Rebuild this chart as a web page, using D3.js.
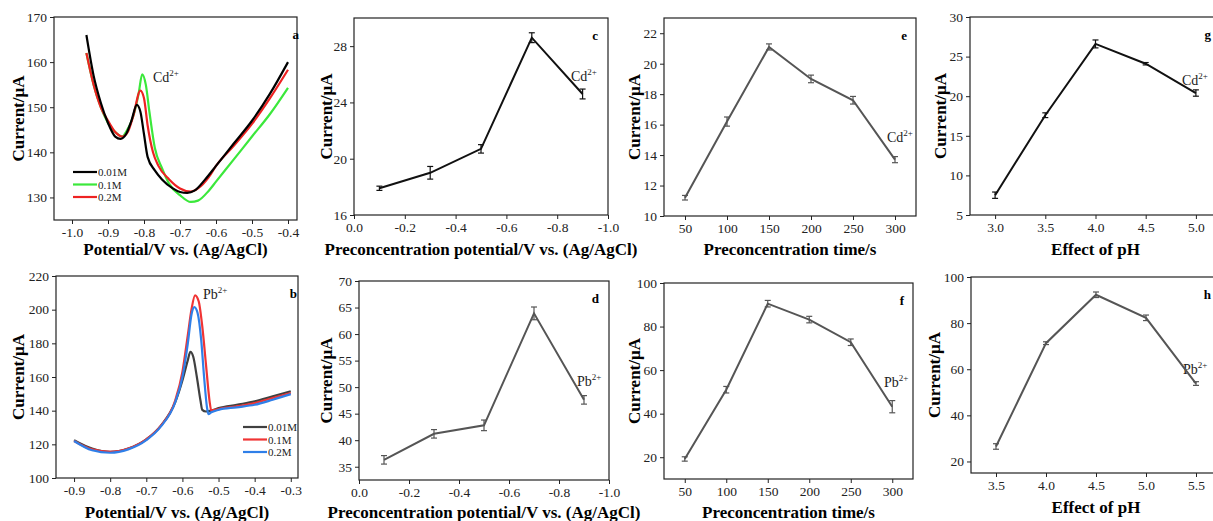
<!DOCTYPE html>
<html>
<head>
<meta charset="utf-8">
<script src="https://cdn.jsdelivr.net/npm/d3@7"></script>
<style>
  body { margin: 0; background: #fff; }
  svg { font-family: "Liberation Serif", "Times New Roman", serif; }
  .tick text { fill: #222; }
  .tick line { stroke: #222; }
</style>
</head>
<body>
<svg id="fig" width="1213" height="521"></svg>
<script>
// ---- panel a : Cd2+ stripping curves, three buffer concentrations
var aBlackX = [-0.96,-0.94,-0.92,-0.90,-0.88,-0.865,-0.85,-0.835,-0.82,-0.81,-0.80,-0.79,-0.77,-0.75,-0.72,-0.70,-0.68,-0.66,-0.63,-0.60,-0.55,-0.50,-0.45,-0.40];
var aBlackY = [166,157,151,146.5,143.5,143,144,147,150.5,149,144,139,136,134,132,131.2,131,131.5,134,137,142,147,153,160];
var aGreenX = [-0.96,-0.94,-0.92,-0.90,-0.88,-0.86,-0.85,-0.83,-0.815,-0.805,-0.795,-0.785,-0.77,-0.75,-0.73,-0.70,-0.67,-0.65,-0.62,-0.60,-0.55,-0.50,-0.45,-0.40];
var aGreenY = [162,155,150,146.5,144.5,143.5,144.5,148,153,157.3,155,149,141,136.5,133,130.5,129,129.3,131.5,133.5,138.5,143.5,148.5,154.3];
var aRedX = [-0.96,-0.94,-0.92,-0.90,-0.88,-0.86,-0.845,-0.83,-0.81,-0.80,-0.79,-0.775,-0.76,-0.73,-0.70,-0.67,-0.65,-0.62,-0.60,-0.55,-0.50,-0.45,-0.40];
var aRedY = [162,155,150,147,144.5,143.5,144.5,148,153.7,152,146,140,137,134,132,131.3,132,134.5,137,141.5,146.3,152,158.3];

// ---- panel b : Pb2+ stripping curves
var bBlackX = [-0.90,-0.85,-0.80,-0.75,-0.70,-0.66,-0.62,-0.60,-0.585,-0.578,-0.57,-0.56,-0.55,-0.545,-0.535,-0.52,-0.50,-0.45,-0.40,-0.35,-0.30];
var bBlackY = [122.5,117.5,115.5,117.5,123,131,145,158,170,175,172,160,146,140.5,139.5,140,141.5,143.5,145.5,148.5,151.5];
var bRedX = [-0.90,-0.85,-0.80,-0.75,-0.70,-0.66,-0.62,-0.60,-0.585,-0.575,-0.565,-0.555,-0.545,-0.535,-0.525,-0.52,-0.51,-0.50,-0.45,-0.40,-0.35,-0.30];
var bRedY = [122,117,115.5,117.5,123,131,146,163,185,200,208.5,205,190,168,146,140,140.5,141,142.5,144.5,147.5,150.5];
var bBlueX = [-0.90,-0.85,-0.80,-0.75,-0.70,-0.66,-0.62,-0.60,-0.585,-0.575,-0.567,-0.558,-0.548,-0.54,-0.532,-0.528,-0.52,-0.50,-0.45,-0.40,-0.35,-0.30];
var bBlueY = [122,116.5,115,117,122.5,130.5,145,160,180,197,201.5,198,182,160,142,138,139,140.5,142,143.5,146.5,149.8];

var concLabels = ["0.01M", "0.1M", "0.2M"];

// ---- panels c / d : preconcentration potential
var potentials = [-0.1, -0.3, -0.5, -0.7, -0.9];
var cdPotCurrent = [17.9, 19.0, 20.7, 28.6, 24.6];
var cdPotErr = [0.15, 0.45, 0.3, 0.35, 0.35];
var pbPotCurrent = [36.3, 41.2, 42.8, 63.9, 47.6];
var pbPotErr = [0.8, 0.8, 1.0, 1.2, 0.8];

// ---- panels e / f : preconcentration time
var times = [50, 100, 150, 200, 250, 300];
var cdTimeCurrent = [11.2, 16.2, 21.1, 19.0, 17.6, 13.7];
var cdTimeErr = [0.15, 0.3, 0.2, 0.25, 0.25, 0.2];
var pbTimeCurrent = [19.2, 51.0, 90.5, 83.2, 72.8, 43.2];
var pbTimeErr = [1.0, 1.5, 1.5, 1.5, 1.5, 2.8];

// ---- panels g / h : pH
var cdPH = [3.0, 3.5, 4.0, 4.5, 5.0];
var cdPHCurrent = [7.5, 17.6, 26.6, 24.1, 20.4];
var cdPHErr = [0.4, 0.3, 0.5, 0.15, 0.4];
var pbPH = [3.5, 4.0, 4.5, 5.0, 5.5];
var pbPHCurrent = [26.5, 71.3, 92.3, 82.3, 53.8];
var pbPHErr = [1.2, 0.6, 1.2, 1.2, 0.8];

var svg = d3.select("#fig");
svg.append("rect").attr("width", 1213).attr("height", 521).attr("fill", "#fff");

function zip(xs, ys) { return xs.map((x, i) => ({x: x, y: ys[i]})); }

// plain hyphen for negatives, like the original figure
var fmt1 = d => (Math.abs(d) < 1e-9 ? 0 : d).toFixed(1);
var fmt0 = d => String(d);

// build one panel frame + axes, returns scales and group
function panel(p) {
    var g = svg.append("g").attr("transform", "translate(" + p.left + "," + p.top + ")");
    var w = p.right - p.left, h = p.bottom - p.top;
    var x = d3.scaleLinear().domain(p.xDomain).range([0, w]);
    var y = d3.scaleLinear().domain(p.yDomain).range([h, 0]);

    g.append("g").attr("transform", "translate(0," + h + ")")
        .call(d3.axisBottom(x).tickValues(p.xTicks).tickSize(4).tickSizeOuter(0).tickFormat(p.xFormat));
    g.append("g")
        .call(d3.axisLeft(y).tickValues(p.yTicks).tickSize(4).tickSizeOuter(0).tickFormat(fmt0));
    g.selectAll(".domain").remove();
    g.append("rect").attr("width", w).attr("height", h)
        .attr("fill", "none").attr("stroke", "#222").attr("stroke-width", 1.2);
    g.selectAll(".tick text").attr("font-family", "Liberation Serif").attr("font-size", 13.5);

    // axis titles
    g.append("text")
        .attr("x", w / 2).attr("y", p.xTitleY - p.top)
        .attr("text-anchor", "middle").attr("font-weight", "bold").attr("font-size", 17)
        .text(p.xTitle);
    g.append("text")
        .attr("transform", "translate(" + (p.yTitleX - p.left) + "," + (h / 2) + ") rotate(-90)")
        .attr("text-anchor", "middle").attr("font-weight", "bold").attr("font-size", 17)
        .text("Current/μA");
    // panel letter
    g.append("text").attr("x", p.letterX - p.left).attr("y", 22).attr("text-anchor", "end")
        .attr("font-weight", "bold").attr("font-size", 13).text(p.letter);
    // ion label
    var t = g.append("text").attr("x", p.ionX - p.left).attr("y", p.ionY - p.top)
        .attr("font-size", 14).attr("fill", "#222").text(p.ion);
    t.append("tspan").attr("dy", -6).attr("font-size", 9).text("2+");

    return {g: g, x: x, y: y};
}

function curve(P, xs, ys, color) {
    var line = d3.line().x(d => P.x(d.x)).y(d => P.y(d.y)).curve(d3.curveMonotoneX);
    P.g.append("path").datum(zip(xs, ys))
        .attr("fill", "none").attr("stroke", color).attr("stroke-width", 2.2)
        .attr("d", line);
}

function errLine(P, xs, ys, es, color) {
    var pts = xs.map((x, i) => ({x: x, y: ys[i], e: es[i]}));
    P.g.append("path").datum(pts)
        .attr("fill", "none").attr("stroke", color).attr("stroke-width", 2)
        .attr("d", d3.line().x(d => P.x(d.x)).y(d => P.y(d.y)));
    var eb = P.g.append("g").selectAll("g").data(pts).enter().append("g")
        .attr("stroke", color).attr("stroke-width", 1.2);
    eb.append("line").attr("x1", d => P.x(d.x)).attr("x2", d => P.x(d.x))
        .attr("y1", d => P.y(d.y - d.e)).attr("y2", d => P.y(d.y + d.e));
    eb.append("line").attr("x1", d => P.x(d.x) - 3).attr("x2", d => P.x(d.x) + 3)
        .attr("y1", d => P.y(d.y - d.e)).attr("y2", d => P.y(d.y - d.e));
    eb.append("line").attr("x1", d => P.x(d.x) - 3).attr("x2", d => P.x(d.x) + 3)
        .attr("y1", d => P.y(d.y + d.e)).attr("y2", d => P.y(d.y + d.e));
}

function legend(P, lx, ly, colors) {
    colors.forEach((c, i) => {
        P.g.append("line").attr("x1", lx).attr("x2", lx + 24)
            .attr("y1", ly + i * 12.5).attr("y2", ly + i * 12.5)
            .attr("stroke", c).attr("stroke-width", 2.2);
        P.g.append("text").attr("x", lx + 25).attr("y", ly + i * 12.5 + 4)
            .attr("font-size", 11).attr("fill", "#222").text(concLabels[i]);
    });
}

// ---- a
var A = panel({left: 54, top: 17, right: 297, bottom: 220, xDomain: [-1.05, -0.375], yDomain: [125, 170],
    xTicks: [-1.0,-0.9,-0.8,-0.7,-0.6,-0.5,-0.4], yTicks: [130,140,150,160,170], xFormat: fmt1,
    xTitle: "Potential/V vs. (Ag/AgCl)", xTitleY: 255, yTitleX: 24, letter: "a", letterX: 299, ion: "Cd", ionX: 153, ionY: 82});
curve(A, aGreenX, aGreenY, "#3be83b");
curve(A, aRedX, aRedY, "#ee2222");
curve(A, aBlackX, aBlackY, "#000");
legend(A, 19, 155, ["#000", "#3be83b", "#ee2222"]);

// ---- b
var B = panel({left: 56, top: 276, right: 298, bottom: 478, xDomain: [-0.95, -0.28], yDomain: [100, 220],
    xTicks: [-0.9,-0.8,-0.7,-0.6,-0.5,-0.4,-0.3], yTicks: [100,120,140,160,180,200,220], xFormat: fmt1,
    xTitle: "Potential/V vs. (Ag/AgCl)", xTitleY: 518, yTitleX: 24, letter: "b", letterX: 297, ion: "Pb", ionX: 203, ionY: 299});
curve(B, bBlackX, bBlackY, "#404040");
curve(B, bRedX, bRedY, "#f03434");
curve(B, bBlueX, bBlueY, "#2f7fe8");
legend(B, 187, 151, ["#404040", "#f03434", "#2f7fe8"]);

// ---- c
var C = panel({left: 354, top: 18, right: 608, bottom: 215, xDomain: [0, -1.0], yDomain: [16, 30],
    xTicks: [0,-0.2,-0.4,-0.6,-0.8,-1.0], yTicks: [16,20,24,28], xFormat: fmt1,
    xTitle: "Preconcentration potential/V vs. (Ag/AgCl)", xTitleY: 255, yTitleX: 332, letter: "c", letterX: 598, ion: "Cd", ionX: 571, ionY: 81});
errLine(C, potentials, cdPotCurrent, cdPotErr, "#111");

// ---- d
var D = panel({left: 359, top: 281, right: 609, bottom: 480, xDomain: [0, -1.0], yDomain: [32.5, 70],
    xTicks: [0,-0.2,-0.4,-0.6,-0.8,-1.0], yTicks: [35,40,45,50,55,60,65,70], xFormat: fmt1,
    xTitle: "Preconcentration potential/V vs. (Ag/AgCl)", xTitleY: 518, yTitleX: 332, letter: "d", letterX: 599, ion: "Pb", ionX: 577, ionY: 386});
errLine(D, potentials, pbPotCurrent, pbPotErr, "#555");

// ---- e
var E = panel({left: 664, top: 18, right: 916, bottom: 216, xDomain: [25, 325], yDomain: [10, 23],
    xTicks: times, yTicks: [10,12,14,16,18,20,22], xFormat: fmt0,
    xTitle: "Preconcentration time/s", xTitleY: 255, yTitleX: 640, letter: "e", letterX: 907, ion: "Cd", ionX: 887, ionY: 142});
errLine(E, times, cdTimeCurrent, cdTimeErr, "#555");

// ---- f
var F = panel({left: 664, top: 283, right: 913, bottom: 479, xDomain: [25, 325], yDomain: [10, 100],
    xTicks: times, yTicks: [20,40,60,80,100], xFormat: fmt0,
    xTitle: "Preconcentration time/s", xTitleY: 518, yTitleX: 640, letter: "f", letterX: 904, ion: "Pb", ionX: 884, ionY: 387});
errLine(F, times, pbTimeCurrent, pbTimeErr, "#555");

// ---- g (right edge runs off the figure)
var G = panel({left: 970, top: 17, right: 1221, bottom: 215, xDomain: [2.75, 5.25], yDomain: [5, 30],
    xTicks: cdPH, yTicks: [5,10,15,20,25,30], xFormat: fmt1,
    xTitle: "Effect of pH", xTitleY: 255, yTitleX: 946, letter: "g", letterX: 1211, ion: "Cd", ionX: 1182, ionY: 85});
errLine(G, cdPH, cdPHCurrent, cdPHErr, "#111");

// ---- h
var H = panel({left: 971, top: 277, right: 1221, bottom: 473, xDomain: [3.25, 5.75], yDomain: [15, 100],
    xTicks: pbPH, yTicks: [20,40,60,80,100], xFormat: fmt1,
    xTitle: "Effect of pH", xTitleY: 513, yTitleX: 940, letter: "h", letterX: 1211, ion: "Pb", ionX: 1183, ionY: 374});
errLine(H, pbPH, pbPHCurrent, pbPHErr, "#555");
</script>
</body>
</html>
